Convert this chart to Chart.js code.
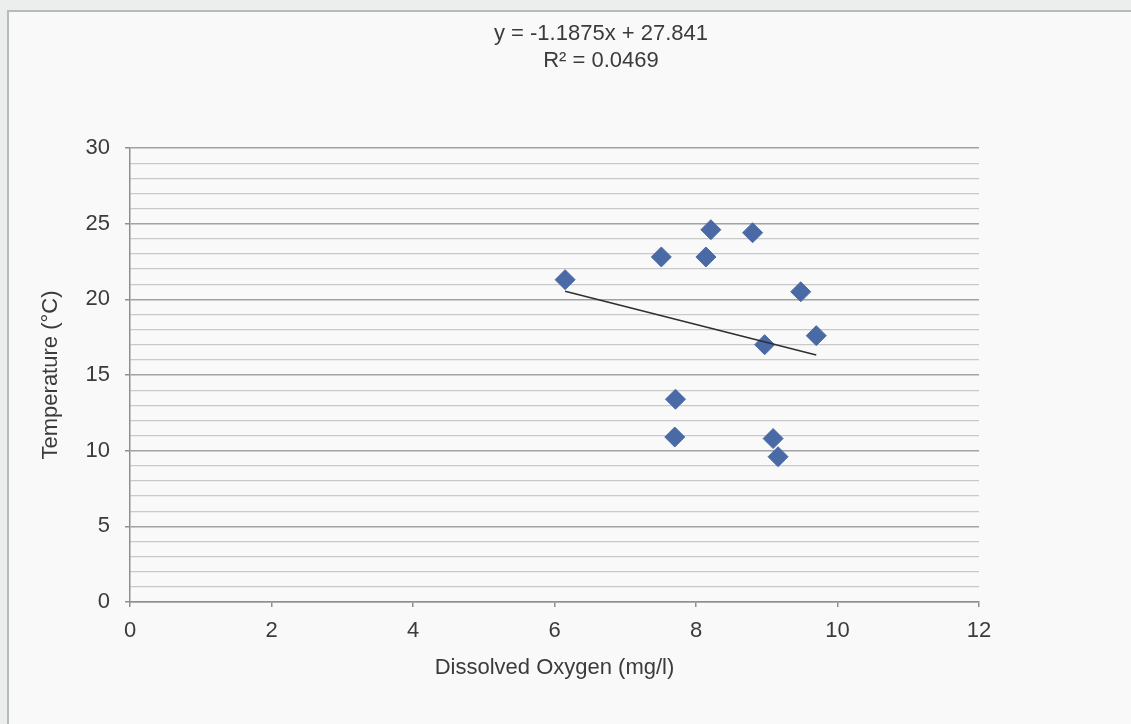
<!DOCTYPE html>
<html>
<head>
<meta charset="utf-8">
<script src="https://cdn.jsdelivr.net/npm/chart.js@4/dist/chart.umd.min.js"></script>
<style>
  html, body { margin: 0; padding: 0; width: 1131px; height: 724px; overflow: hidden; background: #eceeed; }
  #frame { position: absolute; left: 7px; top: 10px; width: 1200px; height: 800px;
           border-left: 2px solid #b9bbba; border-top: 2px solid #b9bbba; background: #f8f9f8; }
  #wrap { position: absolute; left: 0; top: 0; width: 1131px; height: 724px; }
</style>
</head>
<body>
<div id="frame"></div>
<div id="wrap"><canvas id="c" width="1131" height="724"></canvas></div>
<script>
// ---- data ----
const dissolvedOxygen = [6.15, 7.51, 8.21, 8.14, 8.80, 9.48, 9.70, 8.97, 7.71, 7.70, 9.09, 9.16];
const temperature     = [21.3, 22.8, 24.6, 22.8, 24.4, 20.5, 17.6, 17.0, 13.4, 10.9, 10.8, 9.6];
const trendSlope = -1.1875;
const trendIntercept = 27.841;
const equationLines = ['y = -1.1875x + 27.841', 'R\u00B2 = 0.0469'];
const xTitle = 'Dissolved Oxygen (mg/l)';
const yTitle = 'Temperature (\u00B0C)';

const points = dissolvedOxygen.map((x, i) => ({ x: x, y: temperature[i] }));
const xMin = Math.min(...dissolvedOxygen), xMax = Math.max(...dissolvedOxygen);
const trendPoints = [xMin, xMax].map(x => ({ x: x, y: trendSlope * x + trendIntercept }));

const FONT = 'Liberation Sans, Arial, sans-serif';
const TEXT = '#3b3b3b';
const FS = 22;

const equationPlugin = {
  id: 'equationLabel',
  afterDraw(chart) {
    const ctx = chart.ctx;
    ctx.save();
    ctx.font = FS + 'px ' + FONT;
    ctx.fillStyle = TEXT;
    ctx.textAlign = 'center';
    ctx.textBaseline = 'middle';
    const cx = 601, y0 = 34, lh = 27;
    equationLines.forEach((t, i) => ctx.fillText(t, cx, y0 + i * lh));
    ctx.restore();
  }
};

new Chart(document.getElementById('c'), {
  type: 'scatter',
  data: {
    datasets: [
      {
        type: 'line',
        label: 'Linear trend',
        data: trendPoints,
        borderColor: '#2f2f2f',
        borderWidth: 1.5,
        pointRadius: 0,
        fill: false,
        order: 0
      },
      {
        label: 'Temperature',
        data: points,
        pointStyle: 'rectRot',
        pointRadius: 10,
        pointHoverRadius: 10,
        backgroundColor: '#4a6aa6',
        borderColor: '#4a6aa6',
        borderWidth: 1,
        order: 1
      }
    ]
  },
  options: {
    responsive: false,
    animation: false,
    events: [],
    layout: { padding: { left: 0, right: 152, top: 148, bottom: 0 } },
    plugins: { legend: { display: false }, tooltip: { enabled: false }, title: { display: false } },
    scales: {
      x: {
        type: 'linear',
        min: 0, max: 12,
        afterFit(scale) { scale.height = 122; },
        ticks: { stepSize: 2, color: TEXT, font: { family: FONT, size: FS }, padding: 11, maxRotation: 0 },
        grid: { drawOnChartArea: false, tickLength: 5, color: '#8f8f8f', lineWidth: 1.5 },
        border: { color: '#8f8f8f', width: 1.5 },
        title: { display: true, text: xTitle, color: TEXT, font: { family: FONT, size: FS }, padding: { top: 0, bottom: 43 } }
      },
      y: {
        min: 0, max: 30,
        afterFit(scale) { scale.width = 130; },
        ticks: {
          stepSize: 1, autoSkip: false, color: TEXT, font: { family: FONT, size: FS }, padding: 15,
          callback: v => (v % 5 === 0 ? String(v) : '')
        },
        grid: {
          tickLength: 5,
          color: ctx => (ctx.tick && ctx.tick.value % 5 === 0 ? '#a2a2a2' : '#c9c9c9'),
          tickColor: ctx => (ctx.tick && ctx.tick.value % 5 === 0 ? '#8f8f8f' : 'rgba(0,0,0,0)'),
          lineWidth: ctx => (ctx.tick && ctx.tick.value % 5 === 0 ? 1.5 : 1.2)
        },
        border: { color: '#8f8f8f', width: 1.5 },
        title: { display: true, text: yTitle, color: TEXT, font: { family: FONT, size: FS }, padding: { top: 38, bottom: 0 } }
      }
    }
  },
  plugins: [equationPlugin]
});
</script>
</body>
</html>
